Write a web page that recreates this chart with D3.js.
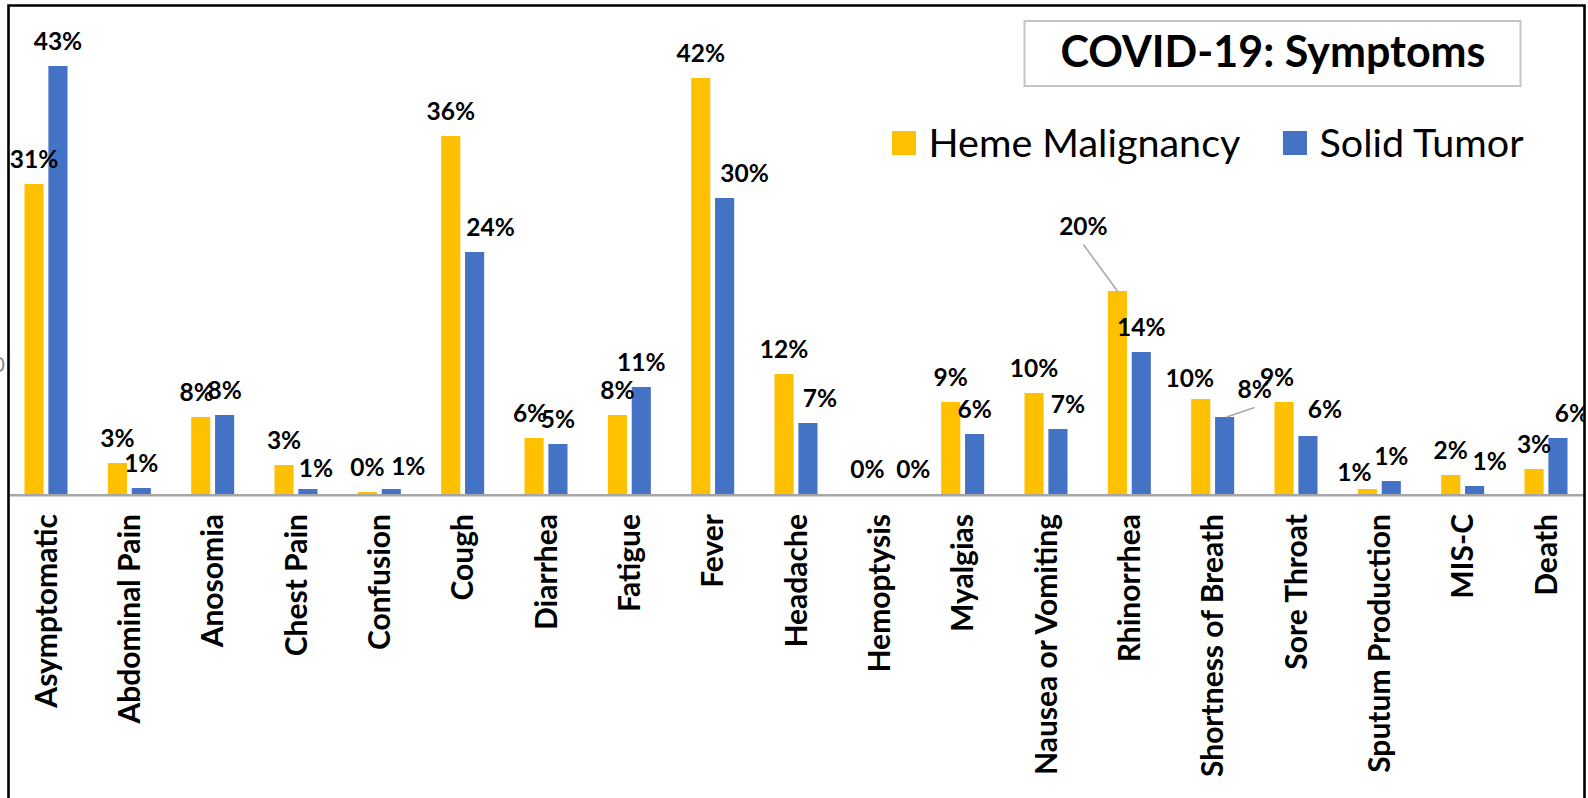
<!DOCTYPE html>
<meta charset="utf-8">
<style>

body { margin: 0; background: #fff; }

text { font-family: Lato, "Open Sans", sans-serif; fill: #000; }

.bar-label { font-weight: bold; font-size: 24.5px; }
.cat-label { font-weight: bold; font-size: 30px; }
.legend text { font-size: 39.5px; }
.title { font-weight: bold; font-size: 43px; }

.leader {
  fill: none;
  stroke: #a6a6a6;
  stroke-width: 1.5px;
}

</style>
<body>
<script src="https://d3js.org/d3.v7.min.js"></script>
<script>

//
// Data
//

var categories = ["Asymptomatic", "Abdominal Pain", "Anosomia", "Chest Pain", "Confusion",
  "Cough", "Diarrhea", "Fatigue", "Fever", "Headache", "Hemoptysis", "Myalgias",
  "Nausea or Vomiting", "Rhinorrhea", "Shortness of Breath", "Sore Throat",
  "Sputum Production", "MIS-C", "Death"];

var hemeValues  = [31.0, 3.1, 7.7, 2.9, 0.2, 35.8, 5.6, 7.9, 41.6, 12.0, 0, 9.2, 10.1, 20.3, 9.5, 9.2, 0.5, 1.9, 2.5];
var solidValues = [42.8, 0.6, 7.9, 0.5, 0.5, 24.2, 5.0, 10.7, 29.6, 7.1, 0, 6.0, 6.5, 14.2, 7.7, 5.8, 1.3, 0.8, 5.6];

var seriesNames = ["Heme Malignancy", "Solid Tumor"];
var seriesColors = ["#FFC000", "#4472C4"];

var chartTitle = "COVID-19: Symptoms";

// label nudges (Excel moved a few labels by hand), key = category|series index
var labelNudge = {
  "Anosomia|0": [-4, 0],
  "Diarrhea|0": [-4, 0],
  "Chest Pain|1": [8, 4],
  "Confusion|1": [17, 2],
  "Cough|1": [16, 0],
  "Fever|1": [20, 0],
  "Headache|1": [12, 0],
  "Hemoptysis|1": [22, 0],
  "Nausea or Vomiting|1": [10, 0],
  "Rhinorrhea|0": [-34, -40],
  "Shortness of Breath|0": [-11, 4],
  "Shortness of Breath|1": [30, -3],
  "Sore Throat|0": [-7, 0],
  "Sore Throat|1": [17, -2],
  "Sputum Production|0": [-13, 8],
  "MIS-C|1": [15, 0],
  "Death|1": [14, 0]
};
var leaders = ["Rhinorrhea|0", "Shortness of Breath|1"];

//
// Layout
//

var width = 1588, height = 798;
var frame = {left: 8.5, top: 5.5, right: 1584.5, bottom: 820};

var x = d3.scaleBand()
    .domain(categories)
    .range([4.33, 1587.67]);

var xs = d3.scaleBand()
    .domain([0, 1])
    .range([x.bandwidth() / 2 - 21.5, x.bandwidth() / 2 + 21.5])
    .paddingInner(0.2);

var y = d3.scaleLinear()
    .domain([0, 43])
    .range([494, 64]);

var svg = d3.select("body").append("svg")
    .attr("width", width)
    .attr("height", height);

svg.append("rect")
    .attr("width", width)
    .attr("height", height)
    .attr("fill", "#fff");

svg.append("clipPath")
    .attr("id", "frame-clip")
  .append("rect")
    .attr("x", frame.left + 1)
    .attr("y", frame.top + 1)
    .attr("width", frame.right - frame.left - 2)
    .attr("height", frame.bottom - frame.top);

// stray cut-off tick glyph at the far left
svg.append("text")
    .attr("x", 5)
    .attr("y", 372)
    .attr("text-anchor", "end")
    .style("font-size", "21px")
    .style("fill", "#8c8c8c")
    .text("0");

var chart = svg.append("g")
    .attr("clip-path", "url(#frame-clip)");

var rows = categories.map(function(c, i) {
  return {cat: c, values: [hemeValues[i], solidValues[i]]};
});

var groups = chart.selectAll(".group")
  .data(rows)
  .enter().append("g")
    .attr("class", "group")
    .attr("transform", function(d) { return "translate(" + x(d.cat) + ",0)"; });

groups.selectAll("rect")
  .data(function(d) { return d.values.map(function(v, k) { return {cat: d.cat, k: k, v: v}; }); })
  .enter().append("rect")
    .attr("x", function(d) { return xs(d.k); })
    .attr("width", xs.bandwidth())
    .attr("y", function(d) { return y(d.v); })
    .attr("height", function(d) { return y(0) - y(d.v); })
    .attr("fill", function(d) { return seriesColors[d.k]; });

// axis line
chart.append("line")
    .attr("x1", frame.left)
    .attr("x2", frame.right)
    .attr("y1", y(0) + 1.3)
    .attr("y2", y(0) + 1.3)
    .attr("stroke", "#a6a6a6")
    .attr("stroke-width", 2.6);

// data labels
var labels = [];
rows.forEach(function(r) {
  r.values.forEach(function(v, k) {
    var key = r.cat + "|" + k;
    var n = labelNudge[key] || [0, 0];
    var bx = x(r.cat) + xs(k) + xs.bandwidth() / 2;
    labels.push({key: key, v: v, bx: bx, by: y(v), lx: bx + n[0], ly: y(v) - 16.5 + n[1]});
  });
});

chart.selectAll(".leader")
  .data(labels.filter(function(d) { return leaders.indexOf(d.key) >= 0; }))
  .enter().append("line")
    .attr("class", "leader")
    .attr("x1", function(d) { return d.lx; })
    .attr("y1", function(d) { return d.ly + 10; })
    .attr("x2", function(d) { return d.bx + (d.lx > d.bx ? 2 : 0); })
    .attr("y2", function(d) { return d.by; });

chart.selectAll(".bar-label")
  .data(labels)
  .enter().append("text")
    .attr("class", "bar-label")
    .attr("text-anchor", "middle")
    .attr("x", function(d) { return d.lx; })
    .attr("y", function(d) { return d.ly; })
    .text(function(d) { return Math.round(d.v) + "%"; });

// category labels
chart.selectAll(".cat-label")
  .data(categories)
  .enter().append("text")
    .attr("class", "cat-label")
    .attr("text-anchor", "end")
    .attr("transform", function(d) {
      return "translate(" + (x(d) + x.bandwidth() / 2) + ",514) rotate(-90)";
    })
    .attr("dy", "0.36em")
    .text(function(d) { return d; });

//
// Title and legend
//

svg.append("rect")
    .attr("x", 1024.5)
    .attr("y", 21)
    .attr("width", 496)
    .attr("height", 65)
    .attr("fill", "#fff")
    .attr("stroke", "#c4c4c4")
    .attr("stroke-width", 2);

svg.append("text")
    .attr("class", "title")
    .attr("x", 1273)
    .attr("y", 67)
    .attr("text-anchor", "middle")
    .text(chartTitle);

var legendX = [892, 1283];
var legend = svg.selectAll(".legend")
  .data(seriesNames)
  .enter().append("g")
    .attr("class", "legend")
    .attr("transform", function(d, i) { return "translate(" + legendX[i] + ",0)"; });

legend.append("rect")
    .attr("y", 131)
    .attr("width", 24)
    .attr("height", 24)
    .attr("fill", function(d, i) { return seriesColors[i]; });

legend.append("text")
    .attr("x", 36.5)
    .attr("y", 157)
    .text(function(d) { return d; });

//
// Frame
//

svg.append("path")
    .attr("d", "M" + frame.left + "," + (height + 5) + "V" + frame.top + "H" + frame.right + "V" + (height + 5))
    .attr("fill", "none")
    .attr("stroke", "#000")
    .attr("stroke-width", 2.6);

</script>
</body>
